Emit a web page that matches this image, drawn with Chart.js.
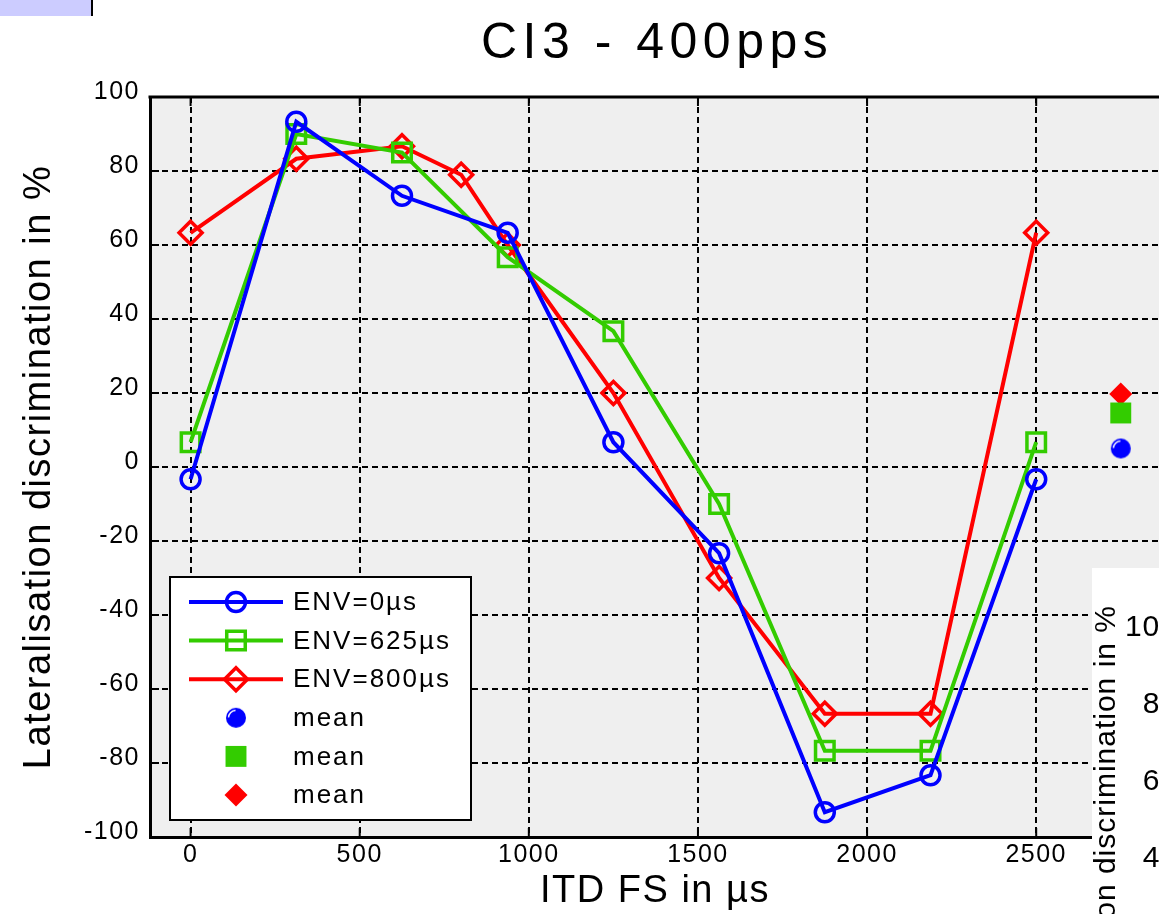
<!DOCTYPE html>
<html><head><meta charset="utf-8"><title>CI3 - 400pps</title>
<script src="https://cdn.jsdelivr.net/npm/chart.js"></script>
<style>
    html, body {
        margin: 0;
        padding: 0;
        width: 1159px;
        height: 914px;
        overflow: hidden;
        background: #fff;
        font-family: "Liberation Sans", Arial, sans-serif;
    }
    #chart {
        position: absolute;
        left: 0;
        top: 0;
    }
    #tab {
        position: absolute;
        left: 0;
        top: 0;
        width: 91px;
        height: 16px;
        background: #ccccff;
        border-right: 2px solid #000;
    }
    /* piece of the neighbouring figure that overlaps this one */
    #other {
        position: absolute;
        left: 1092px;
        top: 568px;
        width: 120px;
        height: 360px;
        background: #fff;
        color: #000;
    }
    #other .lbl {
        position: absolute;
        left: -2px;
        top: 37px;
        white-space: nowrap;
        font-size: 30px;
        line-height: 30px;
        letter-spacing: 1px;
        transform-origin: 0 0;
        transform: rotate(-90deg) translateX(-100%);
    }
    #other .tk {
        position: absolute;
        left: 0;
        width: 86px;
        text-align: right;
        font-size: 30px;
        line-height: 30px;
        letter-spacing: 1px;
    }
</style>
</head>
<body>
    <canvas id="chart" width="1326" height="914"></canvas>
    <div id="tab"></div>
    <div id="other">
        <div class="lbl">Lateralisation discrimination in %</div>
        <div class="tk" style="top:43px">100</div>
        <div class="tk" style="top:120px">80</div>
        <div class="tk" style="top:197px">60</div>
        <div class="tk" style="top:274px">40</div>
    </div>

<script>
// ITD FS values (µs)
const xEnv0 = [0, 312.5, 625, 937.5, 1250, 1562.5, 1875, 2187.5, 2500];
const xEnv625 = [0, 312.5, 625, 937.5, 1250, 1562.5, 1875, 2187.5, 2500];
const xEnv800 = [0, 312.5, 625, 800, 937.5, 1250, 1562.5, 1875, 2187.5, 2500];

// lateralisation discrimination in %
const env0 = [-3.3, 93.3, 73.3, 63.3, 6.7, -23.3, -93.3, -83.3, -3.3];
const env625 = [6.7, 90, 85, 56.7, 36.7, -10, -76.7, -76.7, 6.7];
const env800 = [63.3, 83.3, 86.7, 79, 60, 20, -30, -66.7, -66.7, 63.3];

// means, plotted to the right of the curves
const meanX = 2750;
const meanEnv0 = 5;
const meanEnv625 = 14.6;
const meanEnv800 = 19.7;

const seriesNames = ['ENV=0µs', 'ENV=625µs', 'ENV=800µs', 'mean', 'mean', 'mean'];
const xTickValues = [0, 500, 1000, 1500, 2000, 2500];
const yTickValues = [-100, -80, -60, -40, -20, 0, 20, 40, 60, 80, 100];

const BLUE = '#0000ff';
const GREEN = '#33cc00';
const RED = '#ff0000';
const FONT = '"Liberation Sans", Arial, sans-serif';

function toPoints(xs, ys) {
    return xs.map((x, i) => ({ x: x, y: ys[i] }));
}

// blue ball with the little white highlight
function shinyBall(color, r) {
    const c = document.createElement('canvas');
    c.width = c.height = 2 * r + 2;
    const g = c.getContext('2d');
    g.fillStyle = color;
    g.beginPath();
    g.arc(r + 1, r + 1, r, 0, 2 * Math.PI);
    g.fill();
    g.strokeStyle = '#fff';
    g.lineWidth = 1.5;
    g.beginPath();
    g.arc(r + 1, r + 1, r - 2.5, Math.PI * 1.02, Math.PI * 1.48);
    g.stroke();
    return c;
}

function drawMarker(ctx, style, x, y, r, stroke, fill, bw) {
    if (style instanceof HTMLCanvasElement) {
        ctx.drawImage(style, x - style.width / 2, y - style.height / 2);
        return;
    }
    ctx.beginPath();
    if (style === 'circle') {
        ctx.arc(x, y, r, 0, 2 * Math.PI);
    } else if (style === 'rect') {
        const s = r * Math.SQRT1_2;
        ctx.rect(x - s, y - s, 2 * s, 2 * s);
    } else if (style === 'rectRot') {
        ctx.moveTo(x - r, y);
        ctx.lineTo(x, y - r);
        ctx.lineTo(x + r, y);
        ctx.lineTo(x, y + r);
        ctx.closePath();
    }
    ctx.fillStyle = fill;
    ctx.fill();
    if (bw) {
        ctx.lineWidth = bw;
        ctx.strokeStyle = stroke;
        ctx.stroke();
    }
}

const spacingPlugin = {
    id: 'spacing',
    beforeLayout(chart) { chart.ctx.letterSpacing = '1.5px'; },
    beforeDraw(chart) { chart.ctx.letterSpacing = '1.5px'; }
};

const plotBg = {
    id: 'plotBg',
    beforeDraw(chart) {
        const { ctx, chartArea: a } = chart;
        ctx.save();
        ctx.fillStyle = '#efefef';
        ctx.fillRect(a.left, a.top, a.right - a.left, a.bottom - a.top);
        ctx.restore();
    }
};

// matlab style: inward ticks, box on top, title, legend inside the axes
const axesDecor = {
    id: 'axesDecor',
    afterDraw(chart) {
        const { ctx, chartArea: a, scales } = chart;
        ctx.save();
        ctx.strokeStyle = '#000';
        ctx.lineWidth = 2;
        ctx.beginPath();
        xTickValues.forEach(v => {
            const px = scales.x.getPixelForValue(v);
            ctx.moveTo(px, a.bottom); ctx.lineTo(px, a.bottom - 9);
            ctx.moveTo(px, a.top); ctx.lineTo(px, a.top + 9);
        });
        yTickValues.forEach(v => {
            const py = scales.y.getPixelForValue(v);
            ctx.moveTo(a.left, py); ctx.lineTo(a.left + 9, py);
        });
        ctx.stroke();
        ctx.lineWidth = 3;
        ctx.beginPath();
        ctx.moveTo(a.left - 1.5, a.top);
        ctx.lineTo(a.right, a.top);
        ctx.stroke();

        // title
        ctx.letterSpacing = '5.5px';
        ctx.fillStyle = '#000';
        ctx.font = '50px ' + FONT;
        ctx.textAlign = 'left';
        ctx.textBaseline = 'alphabetic';
        ctx.fillText('CI3 - 400pps', 481, 58);

        // legend
        const L = { x: 170, y: 577, w: 301, h: 243, line0: 189, line1: 283, mark: 236, text: 293, row0: 602, step: 38.6 };
        ctx.letterSpacing = '2px';
        ctx.fillStyle = '#fff';
        ctx.fillRect(L.x, L.y, L.w, L.h);
        ctx.strokeStyle = '#000';
        ctx.lineWidth = 2;
        ctx.strokeRect(L.x, L.y, L.w, L.h);
        ctx.font = '26px ' + FONT;
        ctx.textBaseline = 'middle';
        chart.data.datasets.forEach((ds, i) => {
            const y = L.row0 + i * L.step;
            if (ds.showLine !== false) {
                ctx.strokeStyle = ds.borderColor;
                ctx.lineWidth = ds.borderWidth;
                ctx.beginPath();
                ctx.moveTo(L.line0, y);
                ctx.lineTo(L.line1, y);
                ctx.stroke();
            }
            drawMarker(ctx, ds.pointStyle, L.mark, y, ds.pointRadius, ds.pointBorderColor, ds.pointBackgroundColor, ds.pointBorderWidth);
            ctx.fillStyle = '#000';
            ctx.fillText(ds.label, L.text, y + 1);
        });
        ctx.restore();
    }
};

function lineSet(label, xs, ys, color, style, radius) {
    return {
        label: label,
        data: toPoints(xs, ys),
        borderColor: color,
        borderWidth: 4,
        pointStyle: style,
        pointRadius: radius,
        pointBorderColor: color,
        pointBackgroundColor: 'rgba(0,0,0,0)',
        pointBorderWidth: 3.5,
        tension: 0
    };
}

function meanSet(label, y, color, style, radius) {
    return {
        label: label,
        data: [{ x: meanX, y: y }],
        showLine: false,
        borderColor: color,
        borderWidth: 0,
        pointStyle: style,
        pointRadius: radius,
        pointBorderColor: color,
        pointBackgroundColor: color,
        pointBorderWidth: 0
    };
}

new Chart(document.getElementById('chart').getContext('2d'), {
    type: 'line',
    data: {
        datasets: [
            lineSet(seriesNames[0], xEnv0, env0, BLUE, 'circle', 9.5),
            lineSet(seriesNames[1], xEnv625, env625, GREEN, 'rect', 13.1),
            lineSet(seriesNames[2], xEnv800, env800, RED, 'rectRot', 11.5),
            meanSet(seriesNames[3], meanEnv0, BLUE, shinyBall(BLUE, 10), 10),
            meanSet(seriesNames[4], meanEnv625, GREEN, 'rect', 14.8),
            meanSet(seriesNames[5], meanEnv800, RED, 'rectRot', 11.5)
        ]
    },
    options: {
        responsive: false,
        animation: false,
        events: [],
        layout: { padding: { top: 97, right: 166, left: 0, bottom: 0 } },
        plugins: {
            legend: { display: false },
            tooltip: { enabled: false },
            title: { display: false }
        },
        scales: {
            x: {
                type: 'linear',
                min: -120,
                max: 2866,
                afterBuildTicks: s => { s.ticks = xTickValues.map(v => ({ value: v })); },
                afterFit: s => { s.height = 77; },
                grid: { color: '#000', lineWidth: 2, drawTicks: false },
                border: { display: true, color: '#000', width: 3, dash: [6, 4] },
                ticks: {
                    autoSkip: false,
                    maxRotation: 0,
                    padding: 3,
                    color: '#000',
                    font: { family: FONT, size: 25 },
                    callback: v => String(v)
                },
                title: {
                    display: true,
                    text: 'ITD FS in µs',
                    color: '#000',
                    padding: { top: 0, bottom: 0 },
                    font: { family: FONT, size: 38 }
                }
            },
            y: {
                min: -100,
                max: 100,
                afterBuildTicks: s => { s.ticks = yTickValues.map(v => ({ value: v })); },
                afterFit: s => { s.width = 150; },
                grid: { color: '#000', lineWidth: 2, drawTicks: false },
                border: { display: true, color: '#000', width: 3, dash: [6, 4] },
                ticks: {
                    padding: 10,
                    labelOffset: -5,
                    color: '#000',
                    font: { family: FONT, size: 25 },
                    callback: v => String(v)
                },
                title: {
                    display: true,
                    text: 'Lateralisation discrimination in %',
                    color: '#000',
                    padding: { top: 17, bottom: 0 },
                    font: { family: FONT, size: 38 }
                }
            }
        }
    },
    plugins: [spacingPlugin, plotBg, axesDecor]
});
</script>
</body>
</html>
